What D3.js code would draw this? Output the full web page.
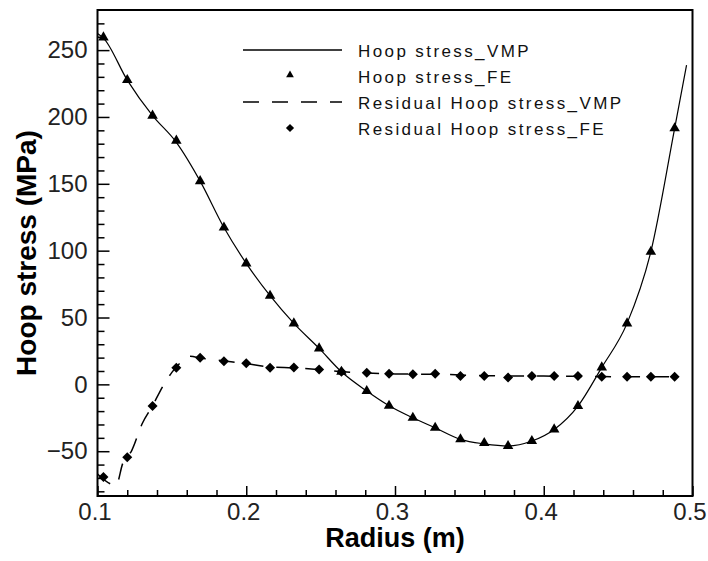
<!DOCTYPE html>
<html>
<head>
<meta charset="utf-8">
<script src="https://cdn.jsdelivr.net/npm/d3@7"></script>
<style>
  html, body { margin: 0; padding: 0; background: #fff; }
  svg { display: block; font-family: "Liberation Sans", Arial, Helvetica, sans-serif; }
</style>
</head>
<body>
<svg id="chart" width="708" height="561"></svg>
<script>
// Radii (m) of the FE sample points
const feRadius = [0.104, 0.120, 0.137, 0.153, 0.169, 0.185, 0.200, 0.216, 0.232, 0.249,
                  0.264, 0.281, 0.296, 0.312, 0.327, 0.344, 0.360, 0.376, 0.392, 0.407,
                  0.423, 0.439, 0.456, 0.472, 0.488];
// Hoop stress, FE (MPa)
const hoopFE = [259.5, 227.6, 201, 182.3, 152, 117.3, 90.5, 66.3, 45.6, 26.9,
                9.4, -5.0, -16.0, -25.0, -32.5, -41.1, -43.9, -46.1, -42.4, -33.7,
                -16.2, 12.7, 45.6, 99.2, 191.5];
// Residual hoop stress, FE (MPa)
const residualFE = [-69.3, -54.6, -16.1, 12.4, 19.9, 17.2, 15.7, 12.4, 12.7, 11.2,
                    9.5, 8.7, 7.9, 7.5, 7.9, 6.2, 6.2, 5.2, 6.2, 6.2,
                    6.2, 5.7, 5.7, 5.7, 5.7];

// Hoop stress, VMP solution
const hoopVmpRadius = [0.100, 0.104, 0.120, 0.137, 0.153, 0.169, 0.185, 0.200, 0.216, 0.232,
                       0.249, 0.264, 0.281, 0.296, 0.312, 0.327, 0.344, 0.360, 0.376, 0.392,
                       0.407, 0.423, 0.439, 0.456, 0.472, 0.488, 0.496];
const hoopVmp = [262.5, 259, 227.6, 201, 181, 152, 117.3, 90.5, 66.3, 45.6,
                 26.9, 9.4, -5.0, -16.0, -25.0, -32.5, -41.1, -44.5, -46.1, -42.4,
                 -33.7, -16.2, 12.7, 45.6, 99.2, 191.5, 238.8];

// Residual hoop stress, VMP solution
const residualVmpRadius = [0.100, 0.1125, 0.117, 0.123, 0.130, 0.137, 0.144, 0.150, 0.156, 0.162,
                           0.170, 0.185, 0.200, 0.216, 0.232, 0.250, 0.265, 0.281, 0.300, 0.330,
                           0.360, 0.400, 0.440, 0.488];
const residualVmp = [-67, -75.5, -59, -49.5, -29.5, -16, -1.3, 9, 16.5, 21,
                     19.5, 17.5, 15.5, 13, 12.3, 11, 9.5, 8.5, 7.8, 7.5,
                     6.5, 6.2, 5.8, 5.7];

// Axis ticks
const xMajorTicks = [0.1, 0.2, 0.3, 0.4, 0.5];
const xMinorTicks = [0.12, 0.14, 0.16, 0.18, 0.22, 0.24, 0.26, 0.28, 0.32, 0.34, 0.36, 0.38, 0.42, 0.44, 0.46, 0.48];
const yMajorTicks = [-50, 0, 50, 100, 150, 200, 250];
const yMinorTicks = [-80, -70, -60, -40, -30, -20, -10, 10, 20, 30, 40, 60, 70, 80, 90,
                     110, 120, 130, 140, 160, 170, 180, 190, 210, 220, 230, 240, 260, 270];

const legendLabels = ["Hoop stress_VMP", "Hoop stress_FE", "Residual Hoop stress_VMP", "Residual Hoop stress_FE"];

const svg = d3.select("#chart");
const plot = { left: 97.5, right: 692.5, top: 10, bottom: 496 };

const x = d3.scaleLinear().domain([0.1, 0.5]).range([plot.left, plot.right]);
const y = d3.scaleLinear().domain([-83.5, 280]).range([plot.bottom, plot.top]);

const fontAxis = 24;

// Minor ticks (inward, no labels)
svg.append("g")
  .attr("transform", `translate(0,${plot.bottom})`)
  .call(d3.axisBottom(x).tickValues(xMinorTicks).tickSizeInner(-6).tickSizeOuter(0).tickFormat(""))
  .call(g => g.select(".domain").remove())
  .selectAll("line").attr("stroke", "#000").attr("stroke-width", 1.5);

svg.append("g")
  .attr("transform", `translate(${plot.left},0)`)
  .call(d3.axisLeft(y).tickValues(yMinorTicks).tickSizeInner(-7).tickSizeOuter(0).tickFormat(""))
  .call(g => g.select(".domain").remove())
  .selectAll("line").attr("stroke", "#000").attr("stroke-width", 1.5);

// Major ticks with labels
const xAxis = svg.append("g")
  .attr("transform", `translate(0,${plot.bottom})`)
  .call(d3.axisBottom(x).tickValues(xMajorTicks).tickSizeInner(-10).tickSizeOuter(0).tickPadding(7)
        .tickFormat(d3.format(".1f")));
xAxis.select(".domain").remove();
xAxis.selectAll("line").attr("stroke", "#000").attr("stroke-width", 1.5);
xAxis.selectAll("text").attr("font-size", fontAxis).attr("fill", "#222").attr("dx", -3)
  .attr("font-family", "'Liberation Sans', Arial, sans-serif");

const yAxis = svg.append("g")
  .attr("transform", `translate(${plot.left},0)`)
  .call(d3.axisLeft(y).tickValues(yMajorTicks).tickSizeInner(-12).tickSizeOuter(0).tickPadding(10));
yAxis.select(".domain").remove();
yAxis.selectAll("line").attr("stroke", "#000").attr("stroke-width", 1.5);
yAxis.selectAll("text").attr("font-size", fontAxis).attr("fill", "#222")
  .attr("font-family", "'Liberation Sans', Arial, sans-serif");

// Frame
svg.append("rect")
  .attr("x", plot.left).attr("y", plot.top)
  .attr("width", plot.right - plot.left).attr("height", plot.bottom - plot.top)
  .attr("fill", "none").attr("stroke", "#000").attr("stroke-width", 2);

// Axis titles
svg.append("text")
  .attr("x", (plot.left + plot.right) / 2).attr("y", 547)
  .attr("text-anchor", "middle").attr("font-weight", "bold").attr("font-size", 27)
  .text("Radius (m)");

svg.append("text")
  .attr("transform", `translate(36,${(plot.top + plot.bottom) / 2}) rotate(-90)`)
  .attr("text-anchor", "middle").attr("font-weight", "bold").attr("font-size", 28)
  .text("Hoop stress (MPa)");

// Diamond symbol (square rotated 45 degrees)
const diamondSq = {
  draw(ctx, size) {
    const r = Math.sqrt(size / 2);
    ctx.moveTo(0, -r); ctx.lineTo(r, 0); ctx.lineTo(0, r); ctx.lineTo(-r, 0); ctx.closePath();
  }
};

const curveLine = d3.line().curve(d3.curveMonotoneX);

const plotG = svg.append("g");

// Hoop stress VMP (solid)
plotG.append("path")
  .attr("d", curveLine(hoopVmpRadius.map((r, i) => [x(r), y(hoopVmp[i])])))
  .attr("fill", "none").attr("stroke", "#000").attr("stroke-width", 1.2);

// Residual hoop stress VMP (dashed)
plotG.append("path")
  .attr("d", curveLine(residualVmpRadius.map((r, i) => [x(r), y(residualVmp[i])])))
  .attr("fill", "none").attr("stroke", "#000").attr("stroke-width", 1.5)
  .attr("stroke-dasharray", "16,13");

// FE markers
plotG.selectAll(".tri").data(feRadius.map((r, i) => [r, hoopFE[i]]))
  .join("path").attr("class", "tri")
  .attr("transform", d => `translate(${x(d[0])},${y(d[1])})`)
  .attr("d", d3.symbol(d3.symbolTriangle, 48)).attr("fill", "#000");

plotG.selectAll(".dia").data(feRadius.map((r, i) => [r, residualFE[i]]))
  .join("path").attr("class", "dia")
  .attr("transform", d => `translate(${x(d[0])},${y(d[1])})`)
  .attr("d", d3.symbol(diamondSq, 50)).attr("fill", "#000");

// Legend
const legRows = [50, 76, 102, 128];
const legX0 = 243, legX1 = 342, legMid = 290, legText = 358;
const leg = svg.append("g");

leg.append("line").attr("x1", legX0).attr("x2", legX1).attr("y1", legRows[0]).attr("y2", legRows[0])
  .attr("stroke", "#000").attr("stroke-width", 1.5);
leg.append("path").attr("transform", `translate(${legMid},${legRows[1] - 1})`)
  .attr("d", d3.symbol(d3.symbolTriangle, 26)).attr("fill", "#000");
leg.append("line").attr("x1", legX0).attr("x2", legX1).attr("y1", legRows[2]).attr("y2", legRows[2])
  .attr("stroke", "#000").attr("stroke-width", 1.5).attr("stroke-dasharray", "16,13");
leg.append("path").attr("transform", `translate(${legMid},${legRows[3]})`)
  .attr("d", d3.symbol(diamondSq, 34)).attr("fill", "#000");

leg.selectAll(".lt").data(legendLabels).join("text").attr("class", "lt")
  .attr("x", legText).attr("y", (d, i) => legRows[i] + 6.5)
  .attr("font-size", 17).attr("letter-spacing", 2.4).attr("fill", "#111")
  .text(d => d);
</script>
</body>
</html>
